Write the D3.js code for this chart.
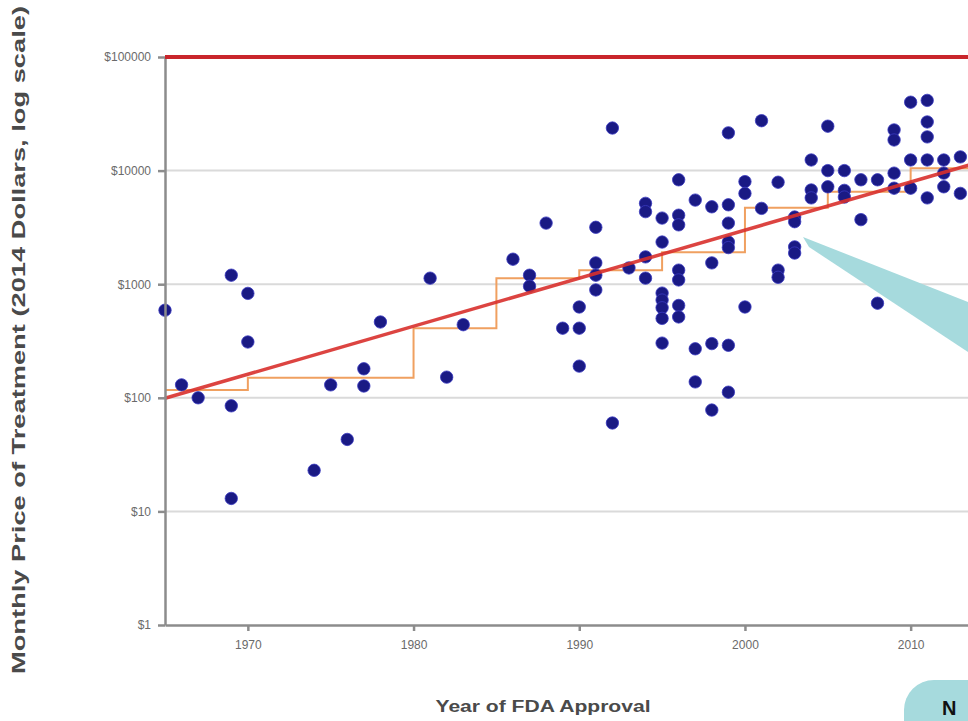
<!DOCTYPE html>
<html>
<head>
<meta charset="utf-8">
<title>Monthly Price of Treatment by Year of FDA Approval</title>
<style>
  body { margin: 0; background: #fff; }
  .grid line { stroke: #dadada; stroke-width: 2px; }
  .axis path, .axis line { stroke: #8c8c8c; stroke-width: 2.5px; }
  .axis text { fill: #6a6a6a; font-family: Arial, "Liberation Sans", sans-serif; font-size: 12px; }
  .dot { fill: #1a1a84; stroke: #3a3ac0; stroke-width: 0.8px; }
  .trend { fill: none; stroke: #d8302c; stroke-width: 3.5px; stroke-opacity: 0.9; }
  .steps { fill: none; stroke: #f0a060; stroke-width: 2px; }
  .cap { stroke: #c9252b; stroke-width: 4px; }
  .title { fill: #4a4a4a; font-family: Arial, "Liberation Sans", sans-serif; font-weight: bold; }
</style>
</head>
<body>
<svg class="chart"></svg>
<script src="https://d3js.org/d3.v7.min.js"></script>
<script>
// drug launches: [year of FDA approval, monthly price in 2014 dollars]
var drugs = [
  [1965, 590], [1966, 130], [1967, 100],
  [1969, 1200], [1969, 85], [1969, 13],
  [1970, 830], [1970, 310],
  [1974, 23], [1975, 130], [1976, 43],
  [1977, 180], [1977, 127], [1978, 465],
  [1981, 1130], [1982, 152], [1983, 440],
  [1986, 1660], [1987, 1200], [1987, 960], [1988, 3450],
  [1989, 410], [1990, 630], [1990, 410], [1990, 190],
  [1991, 3170], [1991, 1540], [1991, 1200], [1991, 890],
  [1992, 23700], [1992, 60], [1993, 1390],
  [1994, 5150], [1994, 4350], [1994, 1740], [1994, 1130],
  [1995, 3820], [1995, 2350], [1995, 835], [1995, 725], [1995, 620], [1995, 500], [1995, 303],
  [1996, 8300], [1996, 4050], [1996, 3330], [1996, 1330], [1996, 1090], [1996, 650], [1996, 515],
  [1997, 5500], [1997, 270], [1997, 138],
  [1998, 4800], [1998, 1540], [1998, 300], [1998, 78],
  [1999, 21500], [1999, 5000], [1999, 3450], [1999, 2350], [1999, 2100], [1999, 290], [1999, 112],
  [2000, 8000], [2000, 6300], [2000, 630],
  [2001, 27500], [2001, 4650],
  [2002, 7900], [2002, 1330], [2002, 1150],
  [2003, 3900], [2003, 3550], [2003, 2130], [2003, 1880],
  [2004, 12400], [2004, 6750], [2004, 5750],
  [2005, 24600], [2005, 10000], [2005, 7200],
  [2006, 10000], [2006, 6700], [2006, 5850],
  [2007, 8300], [2007, 3700],
  [2008, 8300], [2008, 680],
  [2009, 22800], [2009, 18600], [2009, 9500], [2009, 7000],
  [2010, 40000], [2010, 12400], [2010, 7000],
  [2011, 41500], [2011, 26800], [2011, 19800], [2011, 12400], [2011, 5750],
  [2012, 12400], [2012, 9500], [2012, 7200],
  [2013, 13200], [2013, 6300]
];

// log-linear trend (end points)
var trendYears = [1965, 2015];
var trendPrice = [99, 12900];

// 5-year median price, as steps
var stepYears = [1965, 1970, 1975, 1980, 1985, 1990, 1995, 2000, 2005, 2010, 2015];
var stepPrice = [117, 150, 150, 410, 1130, 1330, 1910, 4700, 6500, 10500, 10500];

var ceilingPrice = 100000;
var yTicks = [1, 10, 100, 1000, 10000, 100000];
var xTicks = [1970, 1980, 1990, 2000, 2010];

var width = 968, height = 721;
var svg = d3.select(".chart")
  .attr("width", width)
  .attr("height", height);

var x = d3.scaleLinear().domain([1965, 2015]).range([165, 993.5]);
var y = d3.scaleLog().domain([1, 100000]).range([625, 57]);

// gridlines
svg.append("g")
    .attr("class", "grid")
  .selectAll("line")
  .data(yTicks.filter(function(d) { return d > 1 && d < ceilingPrice; }))
  .enter().append("line")
    .attr("x1", x(1965)).attr("x2", width)
    .attr("y1", function(d) { return y(d); })
    .attr("y2", function(d) { return y(d); });

// step line
var stepLine = d3.line()
  .curve(d3.curveStepAfter)
  .x(function(d, i) { return x(stepYears[i]); })
  .y(function(d) { return y(d); });
svg.append("path")
  .datum(stepPrice)
  .attr("class", "steps")
  .attr("d", stepLine);

// dots
svg.append("g")
  .selectAll("circle")
  .data(drugs)
  .enter().append("circle")
    .attr("class", "dot")
    .attr("cx", function(d) { return x(d[0]); })
    .attr("cy", function(d) { return y(d[1]); })
    .attr("r", 6.2);

// trend
var trendLine = d3.line()
  .x(function(d, i) { return x(trendYears[i]); })
  .y(function(d) { return y(d); });
svg.append("path")
  .datum(trendPrice)
  .attr("class", "trend")
  .attr("d", trendLine);

// axes
svg.append("g")
  .attr("class", "axis")
  .attr("transform", "translate(0," + y(1) + ")")
  .call(d3.axisBottom(x).tickValues(xTicks).tickFormat(d3.format("d"))
    .tickSize(6).tickSizeOuter(0).tickPadding(9));

svg.append("g")
  .attr("class", "axis")
  .attr("transform", "translate(" + x(1965) + ",0)")
  .call(d3.axisLeft(y).tickValues(yTicks).tickFormat(function(d) { return "$" + d; })
    .tickSize(7).tickSizeOuter(0).tickPadding(7));

// $100000 ceiling line
svg.append("line")
  .attr("class", "cap")
  .attr("x1", x(1965)).attr("x2", width)
  .attr("y1", y(ceilingPrice)).attr("y2", y(ceilingPrice));

// axis titles
svg.append("text")
  .attr("class", "title")
  .attr("transform", "translate(25,340) rotate(-90)")
  .attr("text-anchor", "middle")
  .attr("font-size", 18)
  .attr("textLength", 668)
  .attr("lengthAdjust", "spacingAndGlyphs")
  .text("Monthly Price of Treatment (2014 Dollars, log scale)");

svg.append("text")
  .attr("class", "title")
  .attr("x", 543).attr("y", 712)
  .attr("text-anchor", "middle")
  .attr("font-size", 16)
  .attr("textLength", 215)
  .attr("lengthAdjust", "spacingAndGlyphs")
  .text("Year of FDA Approval");

// callout pointer and box (cut off at the edge)
svg.append("polygon")
  .attr("points", "803,237 968,302 968,352 809,247")
  .attr("fill", "#a6dadd");

svg.append("rect")
  .attr("x", 904).attr("y", 680)
  .attr("width", 120).attr("height", 80)
  .attr("rx", 30)
  .attr("fill", "#a6dadd");

svg.append("text")
  .attr("x", 942).attr("y", 715)
  .attr("font-family", "Arial, 'Liberation Sans', sans-serif")
  .attr("font-weight", "bold")
  .attr("font-size", 20)
  .attr("fill", "#111")
  .text("N");
</script>
</body>
</html>
